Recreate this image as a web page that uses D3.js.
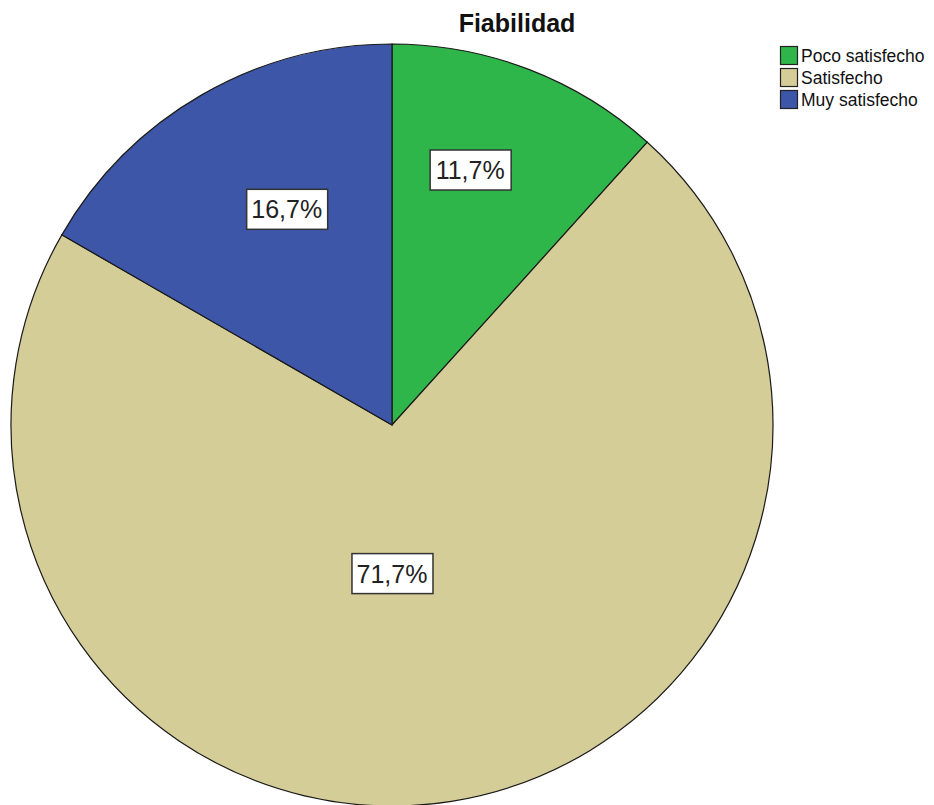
<!DOCTYPE html>
<html><head><meta charset="utf-8">
<script src="https://cdn.jsdelivr.net/npm/d3@7"></script>
<style>body{margin:0;background:#fff}svg{display:block}</style>
</head><body>
<svg id="c" width="934" height="805"></svg>
<script>
const categories = ["Poco satisfecho", "Satisfecho", "Muy satisfecho"];
const values = [11.7, 71.7, 16.7];
const labels = ["11,7%", "71,7%", "16,7%"];
const title = "Fiabilidad";

// layout (not data)
const colors = ["#2fb64a", "#d4cd98", "#3d56a8"];
const labelRadiusFrac = [0.70, 0.39, 0.63];
const labelAngleShift = [-4, 9, 4]; // degrees

const svg = d3.select("#c");
const W = 934, H = 805;
const cx = 392, cy = 425, R = 381;

svg.append("rect").attr("width", W).attr("height", H).attr("fill", "#fff");

const pie = d3.pie().sort(null).value(d => d)(values);
const arc = d3.arc().innerRadius(0).outerRadius(R);
const g = svg.append("g").attr("transform", `translate(${cx},${cy})`);

g.selectAll("path").data(pie).enter().append("path")
  .attr("d", arc)
  .attr("fill", (d, i) => colors[i])
  .attr("stroke", "#1a1a1a")
  .attr("stroke-width", 1.2);

const lg = g.selectAll("g.lab").data(pie).enter().append("g").attr("class", "lab")
  .attr("transform", (d, i) => {
    const a = (d.startAngle + d.endAngle) / 2 + labelAngleShift[i] * Math.PI / 180;
    const r = R * labelRadiusFrac[i];
    return `translate(${r * Math.sin(a)},${-r * Math.cos(a)})`;
  });
lg.append("rect").attr("x", -40).attr("y", -20).attr("width", 81).attr("height", 40)
  .attr("fill", "#fff").attr("stroke", "#333").attr("stroke-width", 1.5);
lg.append("text").text((d, i) => labels[i])
  .attr("text-anchor", "middle").attr("y", 9)
  .attr("font-family", "Liberation Sans, Arial, sans-serif")
  .attr("font-size", 25).attr("fill", "#222");

svg.append("text").text(title)
  .attr("x", 517).attr("y", 32).attr("text-anchor", "middle")
  .attr("font-family", "Liberation Sans, Arial, sans-serif")
  .attr("font-weight", "bold").attr("font-size", 25).attr("fill", "#111");

const leg = svg.append("g").attr("transform", "translate(780,46)");
const li = leg.selectAll("g").data(categories).enter().append("g")
  .attr("transform", (d, i) => `translate(0,${i * 22})`);
li.append("rect").attr("x", 0.5).attr("y", 0.5).attr("width", 17).attr("height", 18)
  .attr("fill", (d, i) => colors[i]).attr("stroke", "#222").attr("stroke-width", 1.2);
li.append("text").text(d => d).attr("x", 21).attr("y", 16)
  .attr("font-family", "Liberation Sans, Arial, sans-serif")
  .attr("font-size", 17.5).attr("fill", "#111");
</script>
</body></html>
